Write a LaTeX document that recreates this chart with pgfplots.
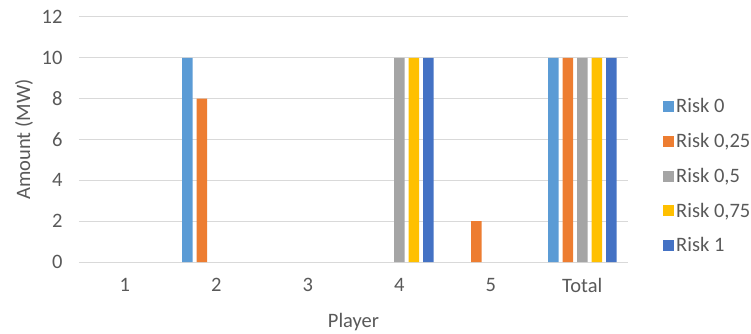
\documentclass[border=0pt]{standalone}
\usepackage{fontspec}
\setmainfont{Carlito}
\usepackage{pgfplots}
\pgfplotsset{compat=1.18}
\definecolor{c0}{HTML}{5B9BD5}
\definecolor{c1}{HTML}{ED7D31}
\definecolor{c2}{HTML}{A5A5A5}
\definecolor{c3}{HTML}{FFC000}
\definecolor{c4}{HTML}{4472C4}
\definecolor{txt}{HTML}{595959}
\definecolor{gridc}{HTML}{D9D9D9}
\begin{document}
\begin{tikzpicture}[x=1pt,y=1pt]
\path[use as bounding box] (-79,-72) rectangle (672,262);
\begin{axis}[
  at={(0,0)}, anchor=south west,
  scale only axis, width=549pt, height=245pt,
  ybar=4pt, bar width=10.5pt,
  xmin=-0.5, xmax=5.5, ymin=0, ymax=12,
  xtick={0,...,5}, xticklabels={1,2,3,4,5,Total},
  ytick={0,2,...,12},
  ymajorgrids, grid style={draw=gridc, line width=1pt},
  axis line style={draw=none},
  major tick length=0pt, tick style={draw=none},
  /pgf/number format/assume math mode=true,
  tick label style={font=\fontsize{20.5}{24}\selectfont, text=txt},
  yticklabel style={xshift=-13pt},
  xticklabel style={yshift=-13pt},
  xlabel={Player}, ylabel={Amount (MW)},
  label style={font=\fontsize{20.5}{24}\selectfont, text=txt},
  xlabel style={at={(axis description cs:0.5,-0.2449)}, anchor=center},
  ylabel style={at={(axis description cs:-0.1,0.5)}, anchor=center},
  legend style={draw=none, fill=none, at={(axis description cs:1,0.351)}, anchor=west, xshift=35pt,
    font=\fontsize{20.5}{24}\selectfont, text=txt, row sep=15pt, inner sep=0pt,
    cells={anchor=west}},
  legend image code/.code={\fill[#1] (0pt,-5.5pt) rectangle (11pt,5.5pt);},
]
\addplot[fill=c0, draw=none] coordinates {(1,10) (5,10)};
\addlegendentry{Risk 0}
\addplot[fill=c1, draw=none] coordinates {(1,8) (4,2) (5,10)};
\addlegendentry{Risk 0,25}
\addplot[fill=c2, draw=none] coordinates {(3,10) (5,10)};
\addlegendentry{Risk 0,5}
\addplot[fill=c3, draw=none] coordinates {(3,10) (5,10)};
\addlegendentry{Risk 0,75}
\addplot[fill=c4, draw=none] coordinates {(3,10) (5,10)};
\addlegendentry{Risk 1}
\end{axis}
\end{tikzpicture}
\end{document}
